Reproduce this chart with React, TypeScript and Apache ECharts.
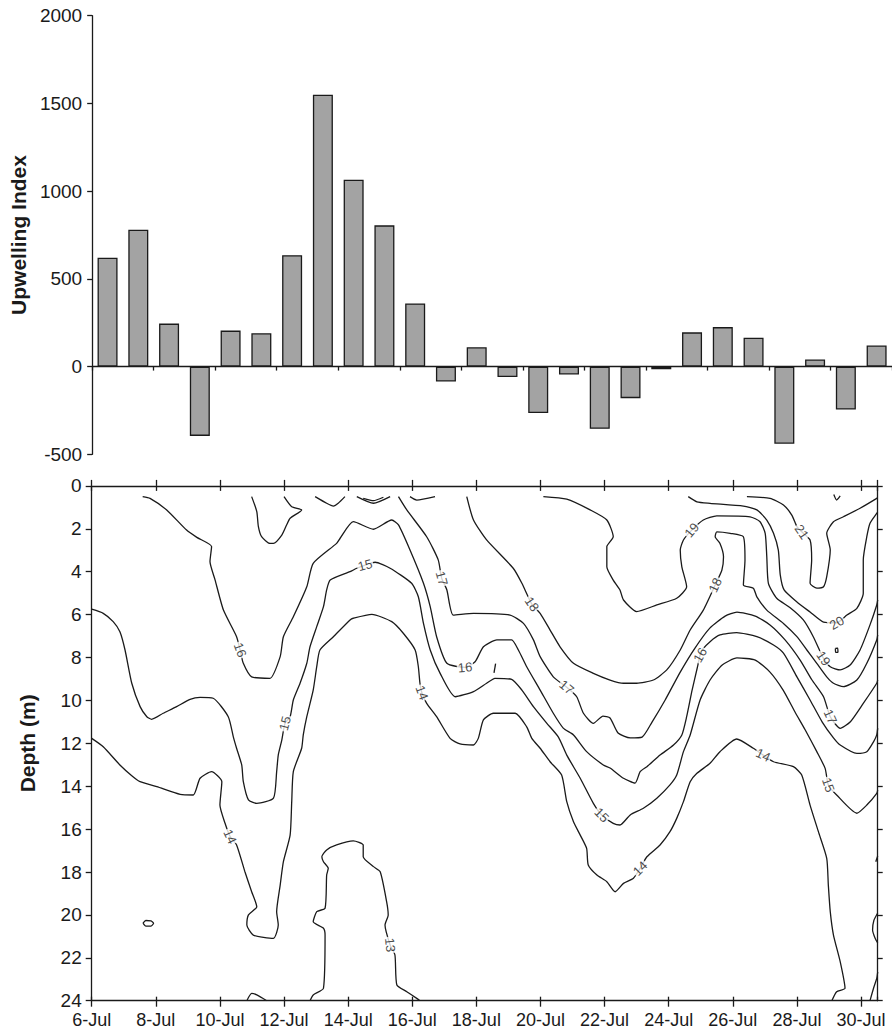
import React, { useEffect, useRef } from "react";
import * as echarts from "echarts";

// ---------- Top panel: daily upwelling index ----------
const barDates = [
  "6-Jul", "7-Jul", "8-Jul", "9-Jul", "10-Jul", "11-Jul", "12-Jul", "13-Jul", "14-Jul",
  "15-Jul", "16-Jul", "17-Jul", "18-Jul", "19-Jul", "20-Jul", "21-Jul", "22-Jul", "23-Jul",
  "24-Jul", "25-Jul", "26-Jul", "27-Jul", "28-Jul", "29-Jul", "30-Jul", "31-Jul",
];
const upwellingIndex = [
  620, 780, 245, -395, 205, 190, 635, 1550, 1065, 805, 360, -85, 110, -60, -265, -45,
  -355, -180, -15, 195, 225, 165, -440, 40, -245, 120,
];

// ---------- Bottom panel: temperature contours (x = days after 6-Jul, y = depth m) ----------
const dateTickLabels = [
  "6-Jul", "8-Jul", "10-Jul", "12-Jul", "14-Jul", "16-Jul", "18-Jul", "20-Jul", "22-Jul",
  "24-Jul", "26-Jul", "28-Jul", "30-Jul",
];

const c13 = [[6.81,24.0],[6.91,23.73],[7.23,23.42],[7.28,20.94],[7.23,20.62],[6.91,20.32],[7.02,19.85],[7.28,19.69],[7.33,18.14],[7.38,17.83],[7.23,17.52],[7.18,17.29],[7.33,16.97],[7.64,16.74],[8.16,16.55],[8.47,16.74],[8.47,17.29],[8.79,17.75],[9.0,17.99],[9.2,19.38],[9.25,20.0],[9.15,20.47],[9.31,21.4],[9.46,21.87],[9.52,23.27],[9.83,23.58],[10.14,23.89],[10.24,24.0]];
const c13b = [[4.84,24.0],[4.99,23.66],[5.15,23.73],[5.46,24.0]];

const c14 = [[0,11.77],[0.36,12.16],[0.88,13.01],[1.25,13.51],[1.51,13.79],[2.03,14.02],[2.76,14.38],[3.17,14.41],[3.38,13.63],[3.74,13.32],[4.06,13.79],[4.0,14.88],[4.16,15.73],[4.32,16.35],[4.52,16.74],[4.78,17.99],[4.99,18.92],[5.15,19.62],[4.89,20.0],[4.84,20.47],[5.04,20.94],[5.67,21.09],[5.82,20.47],[5.77,19.85],[5.88,18.61],[5.98,17.52],[6.19,16.28],[6.24,14.72],[6.29,13.32],[6.55,12.23],[6.6,11.61],[6.71,10.76],[6.91,9.52],[7.02,8.43],[7.12,7.65],[7.54,7.03],[8.06,6.25],[8.16,6.17],[8.74,5.99],[9.36,6.33],[9.72,6.87],[10.09,7.65],[10.19,8.43],[10.24,9.2],[10.3,9.64],[10.45,10.14],[10.76,10.76],[11.18,11.77],[11.49,12.03],[11.91,12.08],[12.06,11.77],[12.22,10.91],[12.53,10.6],[13.21,10.6],[13.57,11.23],[13.73,11.77],[13.99,12.23],[14.3,12.86],[14.66,13.48],[14.82,14.72],[15.03,15.66],[15.24,16.28],[15.44,16.9],[15.49,17.67],[15.76,18.14],[16.07,18.45],[16.33,18.92],[16.59,18.53],[16.9,18.29],[17.11,17.83],[17.32,17.29],[17.73,16.74],[18.04,16.12],[18.25,15.5],[18.46,14.72],[18.67,13.79],[18.88,13.4],[19.29,12.93],[19.6,12.39],[20.12,11.8],[20.64,12.23],[20.95,12.55],[21.27,12.86],[21.89,13.09],[22.15,13.48],[22.41,14.88],[22.67,16.12],[22.93,17.36],[22.98,18.61],[23.04,19.85],[23.14,20.94],[23.35,22.18],[23.5,23.42],[23.24,23.58],[23.09,24.0]];

const c15 = [[0,5.75],[0.36,5.94],[0.67,6.33],[0.88,6.8],[1.04,7.65],[1.25,9.2],[1.51,10.29],[1.72,10.76],[1.87,10.88],[2.23,10.6],[2.65,10.29],[3.07,9.95],[3.38,9.86],[3.79,9.9],[4.26,10.76],[4.42,11.71],[4.52,12.23],[4.68,13.01],[4.73,13.79],[4.89,14.64],[5.15,14.8],[5.67,14.56],[5.77,13.32],[5.82,12.55],[5.93,11.85],[6.03,11.07],[6.19,10.76],[6.29,9.98],[6.5,9.2],[6.71,8.27],[6.81,7.5],[7.02,6.56],[7.23,5.63],[7.33,4.85],[7.44,4.39],[8.06,4.0],[8.27,3.84],[8.53,3.69],[8.84,3.56],[9.31,3.84],[9.98,4.54],[10.19,5.17],[10.35,6.41],[10.56,7.65],[10.87,8.74],[11.34,9.83],[11.91,9.59],[12.32,9.2],[12.58,8.97],[13.1,9.02],[13.42,9.52],[13.78,10.29],[14.2,11.07],[14.56,11.71],[14.82,12.55],[15.24,13.63],[15.65,14.8],[15.91,15.34],[16.27,15.73],[16.48,15.81],[16.8,15.34],[17.21,15.03],[17.63,14.56],[18.04,13.94],[18.25,13.48],[18.46,12.39],[18.67,11.61],[18.98,9.98],[19.29,9.05],[19.67,8.35],[20.13,8.02],[20.7,8.12],[21.16,8.68],[21.57,9.52],[21.94,10.54],[22.26,11.38],[22.62,12.39],[22.88,13.17],[22.98,13.94],[23.24,14.41],[23.87,15.26],[24.18,14.88],[24.49,14.33],[24.52,14.18]];

const c16 = [[1.59,0.5],[1.82,0.58],[2.34,1.12],[2.96,2.06],[3.28,2.4],[3.74,2.83],[3.69,3.53],[3.85,4.39],[4.11,5.79],[4.52,7.03],[4.63,7.65],[4.73,8.27],[4.99,8.9],[5.56,8.97],[5.88,7.96],[5.98,7.03],[6.29,6.1],[6.71,4.7],[6.91,3.61],[7.64,2.68],[7.75,2.44],[8.16,1.67],[8.79,2.02],[9.36,1.59],[9.57,1.82],[9.93,2.99],[10.35,4.54],[10.56,5.63],[10.76,7.03],[11.08,8.27],[11.65,8.46],[11.96,8.2],[12.22,7.5],[12.64,7.18],[13.1,7.18],[13.31,7.65],[13.57,8.43],[13.99,9.52],[14.4,10.6],[14.71,11.29],[15.03,11.61],[15.44,12.39],[15.96,13.01],[16.17,13.15],[16.59,13.63],[16.95,13.86],[17.11,13.32],[17.32,13.09],[17.73,12.55],[18.15,12.08],[18.41,11.61],[18.56,10.76],[18.73,9.52],[18.89,8.49],[18.98,7.88],[19.04,7.65],[19.29,7.26],[19.6,6.95],[20.12,6.84],[20.75,7.03],[21.27,7.42],[21.58,7.8],[22.0,8.9],[22.41,9.98],[22.79,11.01],[23.14,11.75],[23.35,12.08],[23.87,12.47],[24.18,12.39],[24.39,11.93],[24.49,11.61],[24.52,11.29]];

const c17 = [[9.57,0.5],[9.83,1.12],[10.45,2.37],[10.81,3.45],[10.92,4.31],[11.08,4.85],[11.28,6.02],[11.91,5.94],[13.05,6.02],[13.47,6.41],[13.78,7.18],[13.99,7.96],[14.4,8.9],[14.82,9.39],[15.13,9.83],[15.34,10.6],[15.65,11.07],[15.95,10.73],[16.17,10.82],[16.42,11.52],[16.8,11.75],[17.17,11.71],[17.48,11.01],[17.89,9.98],[18.36,8.68],[18.82,7.56],[19.29,6.62],[19.76,6.07],[20.13,5.88],[20.7,6.07],[21.16,6.48],[21.63,7.18],[22.1,8.12],[22.47,9.05],[22.83,9.83],[23.04,10.76],[23.35,11.3],[23.66,11.01],[24.07,10.14],[24.49,9.2],[24.52,9.05]];
const c17b = [[4.99,0.5],[5.15,1.2],[5.2,1.9],[5.3,2.37],[5.56,2.68],[5.67,2.68],[5.93,2.29],[6.08,1.82],[6.19,1.51],[6.55,1.12],[6.24,0.97],[6.0,0.5]];

const c18 = [[11.7,0.5],[11.91,1.59],[12.32,2.52],[13.15,3.84],[13.42,4.54],[13.73,5.51],[13.99,5.94],[14.3,6.72],[14.61,7.5],[15.03,8.27],[15.65,8.74],[16.17,9.05],[16.59,9.2],[17.0,9.2],[17.52,9.05],[17.94,8.58],[18.36,7.65],[18.67,6.72],[19.08,5.79],[19.45,4.62],[19.66,3.92],[19.71,3.3],[19.6,2.68],[19.45,2.37],[19.5,2.14],[19.92,2.21],[20.33,2.37],[20.38,3.45],[20.33,4.62],[20.64,4.77],[20.75,5.17],[21.06,5.79],[21.58,6.41],[22.0,7.03],[22.31,7.65],[22.62,8.27],[22.93,8.9],[23.14,9.2],[23.45,9.36],[23.87,9.05],[24.18,8.27],[24.49,7.18],[24.52,6.95]];

const c19 = [[14.09,0.5],[14.82,0.62],[15.55,1.12],[16.07,1.59],[16.27,2.37],[16.07,2.83],[16.07,3.77],[16.27,4.39],[16.48,4.85],[16.59,5.32],[17.0,5.86],[17.63,5.55],[18.25,5.24],[18.56,4.7],[18.41,3.77],[18.36,2.99],[18.46,2.52],[18.72,2.06],[19.08,1.59],[19.5,1.4],[20.54,1.44],[20.85,1.67],[21.01,2.21],[21.06,3.3],[21.11,4.54],[21.37,5.24],[21.79,5.68],[22.2,6.25],[22.51,7.03],[22.83,8.04],[23.04,8.43],[23.35,8.58],[23.66,8.35],[23.97,7.65],[24.28,6.48],[24.49,5.55],[24.52,5.32]];

const c20 = [[18.61,0.5],[18.88,0.74],[19.29,0.81],[20.33,0.94],[20.75,1.12],[21.06,1.59],[21.27,2.21],[21.42,2.99],[21.48,4.15],[21.6,4.85],[22.0,5.41],[22.41,5.88],[22.83,6.35],[23.24,6.38],[23.56,6.02],[23.87,5.71],[24.07,5.01],[24.07,3.45],[24.18,2.37],[24.28,1.74],[24.49,1.28],[24.52,1.22]];

const c21 = [[20.44,0.5],[21.16,0.58],[21.58,0.89],[21.84,1.36],[22.0,1.9],[22.15,2.14],[22.41,2.52],[22.46,3.45],[22.41,4.54],[22.62,4.77],[22.83,4.7],[22.93,4.23],[23.04,2.99],[22.93,2.21],[23.14,1.67],[23.45,1.44],[23.97,1.04],[24.49,0.58],[24.52,0.54]];

// small closed / edge fragments
const fragTop1 = [[6.97,0.5],[7.33,0.81],[7.54,0.94],[7.69,0.81],[7.9,0.5]];
const fragTop2 = [[8.27,0.5],[8.79,0.81],[9.31,0.5]];
const fragTop3 = [[8.47,0.58],[8.79,0.69],[9.1,0.53]];
const fragTop4 = [[9.93,0.5],[10.14,0.66],[10.71,0.5]];
const fragTop5 = [[23.15,0.4],[23.24,0.66],[23.35,0.47]];
const fragDot = [[23.2,7.58],[23.27,7.56],[23.28,7.75],[23.21,7.76],[23.2,7.58]];
const fragTick = [[12.6,8.29],[12.55,8.72]];
const fragLoop = [[1.6,20.38],[1.69,20.26],[1.85,20.28],[1.93,20.39],[1.85,20.52],[1.69,20.52],[1.6,20.38]];
const fragEdge1 = [[24.28,24.0],[24.39,23.42],[24.49,22.96],[24.52,22.66]];
const fragEdge2 = [[24.52,19.91],[24.4,20.26],[24.36,20.7],[24.44,21.09],[24.52,21.31]];
const fragEdge3 = [[24.52,17.25],[24.46,17.52]];

const contourLines = [c13, c13b, c14, c15, c16, c17, c17b, c18, c19, c20, c21,
  fragTop1, fragTop2, fragTop3, fragTop4, fragTop5, fragDot, fragTick, fragLoop,
  fragEdge1, fragEdge2, fragEdge3];

// contour labels: [day, depth, text, rotation]
const contourLabels: [number, number, string, number][] = [
  [4.63, 7.65, "16", -70],
  [8.53, 3.69, "15", 15],
  [10.92, 4.31, "17", -75],
  [11.65, 8.46, "16", 5],
  [13.73, 5.51, "18", -55],
  [10.3, 9.64, "14", -70],
  [14.82, 9.39, "17", -40],
  [6.03, 11.07, "15", 75],
  [4.32, 16.35, "14", -65],
  [9.31, 21.4, "13", -85],
  [15.91, 15.34, "15", -45],
  [17.11, 17.83, "14", 45],
  [20.95, 12.55, "14", -25],
  [22.98, 13.94, "15", -70],
  [18.98, 7.88, "16", 60],
  [19.45, 4.62, "18", 65],
  [18.72, 2.06, "19", 50],
  [22.83, 8.04, "19", -55],
  [23.24, 6.38, "20", 30],
  [22.15, 2.14, "21", -55],
  [23.04, 10.76, "17", -65],
];

const FONT = "'Liberation Sans', Arial, Helvetica, sans-serif";
const INK = "#1a1a1a";

export default function App() {
  const ref = useRef<HTMLDivElement>(null);

  useEffect(() => {
    if (!ref.current) return;
    const chart = echarts.init(ref.current, undefined, { renderer: "svg" });

    const axisLine = { show: true, onZero: false, lineStyle: { color: INK, width: 1.3 } };
    const tickStyle = { color: INK, width: 1.3 };
    const tickLabel = { color: INK, fontSize: 18, fontFamily: FONT };
    const yTickLabel = { color: INK, fontSize: 19, fontFamily: FONT };

    const lineSeries = contourLines.map((pts) => ({
      type: "line",
      xAxisIndex: 1,
      yAxisIndex: 1,
      data: pts,
      symbol: "none",
      showSymbol: false,
      smooth: 0.2,
      silent: true,
      z: 2,
      lineStyle: { color: INK, width: 1.3 },
    }));

    const option: any = {
      animation: false,
      backgroundColor: "#ffffff",
      textStyle: { fontFamily: FONT },
      grid: [
        { left: 92, top: 15.7, width: 806, height: 438.6 },
        { left: 91.7, top: 485.9, width: 786, height: 514.8 },
      ],
      xAxis: [
        {
          gridIndex: 0,
          type: "category",
          data: barDates,
          axisLine: { show: true, onZero: true, lineStyle: { color: INK, width: 1.3 } },
          axisTick: { show: true, length: 4, lineStyle: tickStyle },
          axisLabel: { show: false },
          splitLine: { show: false },
        },
        {
          gridIndex: 1,
          type: "value",
          position: "bottom",
          min: 0,
          max: 24.52,
          interval: 2,
          axisLine,
          axisTick: { show: true, length: 6, lineStyle: tickStyle },
          axisLabel: {
            ...tickLabel,
            margin: 10,
            showMaxLabel: false,
            formatter: (v: number) => {
              const i = Math.round(v / 2);
              return Math.abs(v - i * 2) < 1e-6 && dateTickLabels[i] ? dateTickLabels[i] : "";
            },
          },
          splitLine: { show: false },
        },
        {
          gridIndex: 1,
          type: "value",
          position: "bottom",
          min: 0,
          max: 24.52,
          interval: 2,
          axisLine: { show: false, onZero: false },
          axisTick: { show: true, inside: true, length: 4, lineStyle: tickStyle },
          axisLabel: { show: false },
          splitLine: { show: false },
        },
        {
          gridIndex: 1,
          type: "value",
          position: "top",
          min: 0,
          max: 24.52,
          interval: 2,
          axisLine,
          axisTick: { show: true, inside: true, length: 5, lineStyle: tickStyle },
          axisLabel: { show: false },
          splitLine: { show: false },
        },
        {
          gridIndex: 1,
          type: "value",
          position: "top",
          min: 0,
          max: 24.52,
          interval: 2,
          axisLine: { show: false, onZero: false },
          axisTick: { show: true, length: 6, lineStyle: tickStyle },
          axisLabel: { show: false },
          splitLine: { show: false },
        },
      ],
      yAxis: [
        {
          gridIndex: 0,
          type: "value",
          min: -500,
          max: 2000,
          interval: 500,
          axisLine,
          axisTick: { show: true, length: 5, lineStyle: tickStyle },
          axisLabel: { ...yTickLabel, margin: 10, formatter: (v: number) => String(v) },
          splitLine: { show: false },
          name: "Upwelling Index",
          nameLocation: "middle",
          nameGap: 54,
          nameTextStyle: { fontSize: 21, fontWeight: "bold", color: INK, fontFamily: FONT },
        },
        {
          gridIndex: 1,
          type: "value",
          inverse: true,
          min: 0,
          max: 24,
          interval: 2,
          position: "left",
          axisLine,
          axisTick: { show: true, length: 6, lineStyle: tickStyle },
          axisLabel: { ...yTickLabel, margin: 10, formatter: (v: number) => String(v) },
          splitLine: { show: false },
          name: "Depth (m)",
          nameLocation: "middle",
          nameGap: 54,
          nameTextStyle: { fontSize: 21, fontWeight: "bold", color: INK, fontFamily: FONT },
        },
        {
          gridIndex: 1,
          type: "value",
          inverse: true,
          min: 0,
          max: 24,
          interval: 2,
          position: "right",
          axisLine,
          axisTick: { show: true, length: 5, lineStyle: tickStyle },
          axisLabel: { show: false },
          splitLine: { show: false },
        },
      ],
      series: [
        {
          type: "bar",
          xAxisIndex: 0,
          yAxisIndex: 0,
          data: upwellingIndex,
          barWidth: 20,
          silent: true,
          itemStyle: { color: "#a3a3a3", borderColor: INK, borderWidth: 1.3 },
        },
        ...lineSeries,
        {
          type: "scatter",
          xAxisIndex: 1,
          yAxisIndex: 1,
          symbolSize: 1,
          silent: true,
          z: 5,
          itemStyle: { color: "rgba(0,0,0,0)" },
          label: {
            show: true,
            position: "inside",
            fontSize: 13,
            color: INK,
            textBorderWidth: 0,
            fontFamily: FONT,
            backgroundColor: "#ffffff",
            padding: [0, 1],
          },
          data: contourLabels.map(([d, z, t, r]) => ({
            value: [d, z],
            label: { show: true, formatter: t, rotate: r, color: INK, textBorderWidth: 0 },
          })),
        },
      ],
    };

    chart.setOption(option);
    return () => chart.dispose();
  }, []);

  return (
    <div
      ref={ref}
      style={{ position: "absolute", left: 0, top: 0, width: 892, height: 1033, background: "#fff" }}
    />
  );
}
